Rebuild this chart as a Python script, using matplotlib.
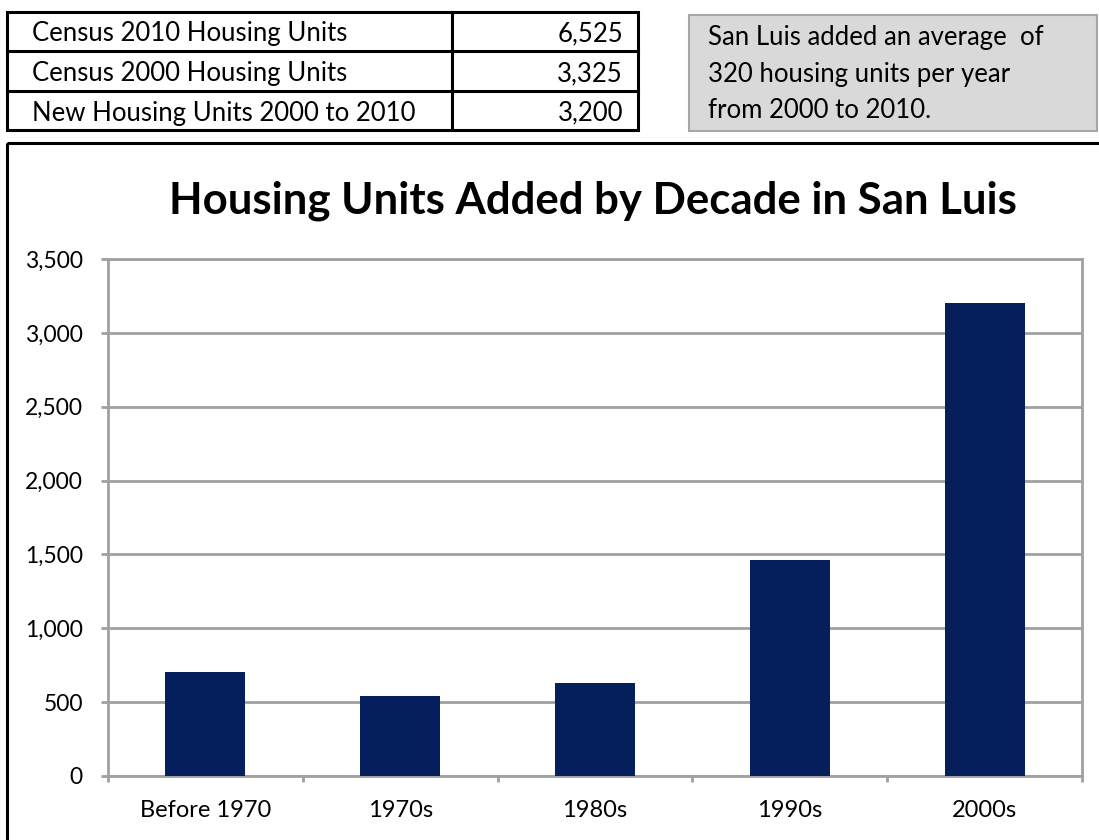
import matplotlib.pyplot as plt
from matplotlib.patches import Rectangle
from matplotlib.ticker import FuncFormatter, FixedLocator

plt.rcParams['font.family'] = ['Lato', 'DejaVu Sans']

# data
decades = ['Before 1970', '1970s', '1980s', '1990s', '2000s']
units_added = [705, 540, 630, 1465, 3200]
table_labels = ['Census 2010 Housing Units', 'Census 2000 Housing Units',
                'New Housing Units 2000 to 2010']
table_values = ['6,525', '3,325', '3,200']
note_lines = ['San Luis added an average  of', '320 housing units per year',
              'from 2000 to 2010.']

W, H = 1099, 840
fig = plt.figure(figsize=(W / 100, H / 100), dpi=100)

# overlay axes in pixel coordinates for the table, note and border
bg = fig.add_axes([0, 0, 1, 1])
bg.set_xlim(0, W)
bg.set_ylim(H, 0)
bg.axis('off')

# table
row_y = [12, 51, 91, 130]
bg.add_patch(Rectangle((7, 12), 631, 118, fill=False, ec='black', lw=2.2))
for y in row_y[1:-1]:
    bg.plot([7, 638], [y, y], color='black', lw=2.2)
bg.plot([452, 452], [12, 130], color='black', lw=2.2)
for i, (lab, val) in enumerate(zip(table_labels, table_values)):
    yc = (row_y[i] + row_y[i + 1]) / 2 + 2.5
    bg.text(32, yc, lab, fontsize=18.5, va='center', ha='left')
    bg.text(623, yc, val, fontsize=18.5, va='center', ha='right')

# note box
bg.add_patch(Rectangle((689, 15), 408, 116, fc='#d9d9d9', ec='#a6a6a6', lw=1.5))
for i, line in enumerate(note_lines):
    bg.text(708, 38 + i * 36.5, line, fontsize=18.5, va='center', ha='left')

# chart border
bg.add_patch(Rectangle((7, 143), 1100, 710, fill=False, ec='black', lw=2.2))

bg.text(593, 201, 'Housing Units Added by Decade in San Luis', fontsize=31.5,
        fontweight='bold', ha='center', va='center')

# bar chart
grid_c = '#a0a0a0'
ax = fig.add_axes([108 / W, (H - 776) / H, (1082 - 108) / W, (776 - 259) / H])
x = list(range(len(decades)))
ax.bar(x, units_added, width=0.41, color='#041f5c', zorder=3)
ax.set_xlim(-0.5, 4.5)
ax.set_ylim(0, 3500)
ax.set_yticks(range(0, 3501, 500))
ax.yaxis.set_major_formatter(FuncFormatter(lambda v, p: f'{int(v):,}'))
ax.set_xticks(x)
ax.set_xticklabels(decades)
ax.xaxis.set_minor_locator(FixedLocator([i - 0.5 for i in range(len(decades) + 1)]))
ax.tick_params(axis='x', which='major', length=0, labelsize=17, pad=17)
ax.tick_params(axis='x', which='minor', length=4, width=2, color=grid_c)
ax.tick_params(axis='y', length=5, width=2, color=grid_c, labelsize=16.5, pad=13)
ax.grid(axis='y', color=grid_c, lw=2, zorder=0)
for s in ax.spines.values():
    s.set_color(grid_c)
    s.set_linewidth(2)

fig.savefig('out.png', dpi=100)
